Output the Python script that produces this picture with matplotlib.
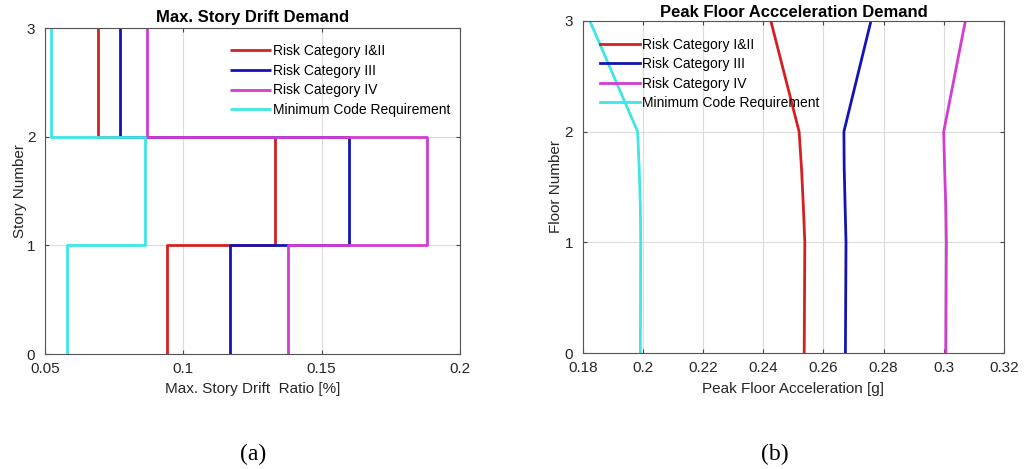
import matplotlib
matplotlib.use("Agg")
import matplotlib.pyplot as plt
from matplotlib.ticker import FuncFormatter

plt.rcParams['font.family'] = ['Liberation Sans', 'DejaVu Sans']

# ---- (a) story drift ratios per story (stories 1..3) ----
stories = [1, 2, 3]
drift_cat12 = [0.094, 0.133, 0.069]
drift_cat3 = [0.117, 0.160, 0.077]
drift_cat4 = [0.138, 0.188, 0.087]
drift_code = [0.058, 0.086, 0.052]

# ---- (b) peak floor acceleration along the height ----
floor_levels = [0, 1, 1.33, 1.67, 2, 3]
pfa_cat12 = [0.2536, 0.2538, 0.2533, 0.2527, 0.2519, 0.2425]
pfa_cat3 = [0.2673, 0.2675, 0.2672, 0.2669, 0.2668, 0.2758]
pfa_cat4 = [0.3007, 0.3009, 0.3007, 0.3003, 0.3000, 0.3072]
pfa_code = [0.1991, 0.1992, 0.1991, 0.1987, 0.1982, 0.1823]

labels = ['Risk Category I&II', 'Risk Category III', 'Risk Category IV',
          'Minimum Code Requirement']
colors = ['#d42020', '#1414b4', '#d23cd2', '#3ee6e6']

fmt = FuncFormatter(lambda v, p: f"{v:g}")


def stair(values):
    xs, ys = [], []
    for i, v in enumerate(values):
        xs += [v, v]
        ys += [stories[i] - 1, stories[i]]
    return xs, ys


def style(ax):
    ax.grid(True, color='#dcdcdc', linewidth=0.8)
    ax.set_axisbelow(True)
    ax.tick_params(direction='in', top=True, right=True, labelsize=11,
                   length=3, color='#444444', labelcolor='#262626')
    ax.tick_params(axis='x', pad=6)
    ax.tick_params(axis='y', pad=7)
    for s in ax.spines.values():
        s.set_color('#555555')
        s.set_linewidth(0.8)
    ax.xaxis.set_major_formatter(fmt)


leg_kw = dict(loc='upper left', frameon=False, fontsize=10, handlelength=2.9,
              handletextpad=0.15, labelspacing=0.4, borderaxespad=0, borderpad=0)

fig = plt.figure(figsize=(10.24, 4.69), dpi=100)

ax1 = fig.add_axes([0.044, 0.2452, 0.405, 0.695])
for vals, lab, c in zip([drift_cat12, drift_cat3, drift_cat4, drift_code], labels, colors):
    xs, ys = stair(vals)
    ax1.plot(xs, ys, color=c, lw=2.0, label=lab, solid_capstyle='butt')
ax1.set_xlim(0.05, 0.2)
ax1.set_ylim(0, 3)
ax1.set_xticks([0.05, 0.1, 0.15, 0.2])
ax1.set_yticks([0, 1, 2, 3])
style(ax1)
ax1.set_title('Max. Story Drift Demand', fontsize=12, fontweight='bold', pad=4)
ax1.set_xlabel('Max. Story Drift  Ratio [%]', fontsize=11, color='#262626', labelpad=4)
ax1.set_ylabel('Story Number', fontsize=11, color='#262626', labelpad=0)
ax1.legend(bbox_to_anchor=(0.447, 0.95), **leg_kw)

ax2 = fig.add_axes([0.5693, 0.2473, 0.411, 0.708])
for vals, lab, c in zip([pfa_cat12, pfa_cat3, pfa_cat4, pfa_code], labels, colors):
    ax2.plot(vals, floor_levels, color=c, lw=2.0, label=lab)
ax2.set_xlim(0.18, 0.32)
ax2.set_ylim(0, 3)
ax2.set_xticks([0.18, 0.2, 0.22, 0.24, 0.26, 0.28, 0.3, 0.32])
ax2.set_yticks([0, 1, 2, 3])
style(ax2)
ax2.set_title('Peak Floor Accceleration Demand', fontsize=12, fontweight='bold', pad=3)
ax2.set_xlabel('Peak Floor Acceleration [g]', fontsize=11, color='#262626', labelpad=5)
ax2.set_ylabel('Floor Number', fontsize=11, color='#262626', labelpad=1)
ax2.legend(bbox_to_anchor=(0.04, 0.95), **leg_kw)

fig.text(0.247, 0.02, '(a)', fontsize=17, family='Liberation Serif', ha='center')
fig.text(0.757, 0.02, '(b)', fontsize=17, family='Liberation Serif', ha='center')

fig.savefig('out.png', dpi=100)
